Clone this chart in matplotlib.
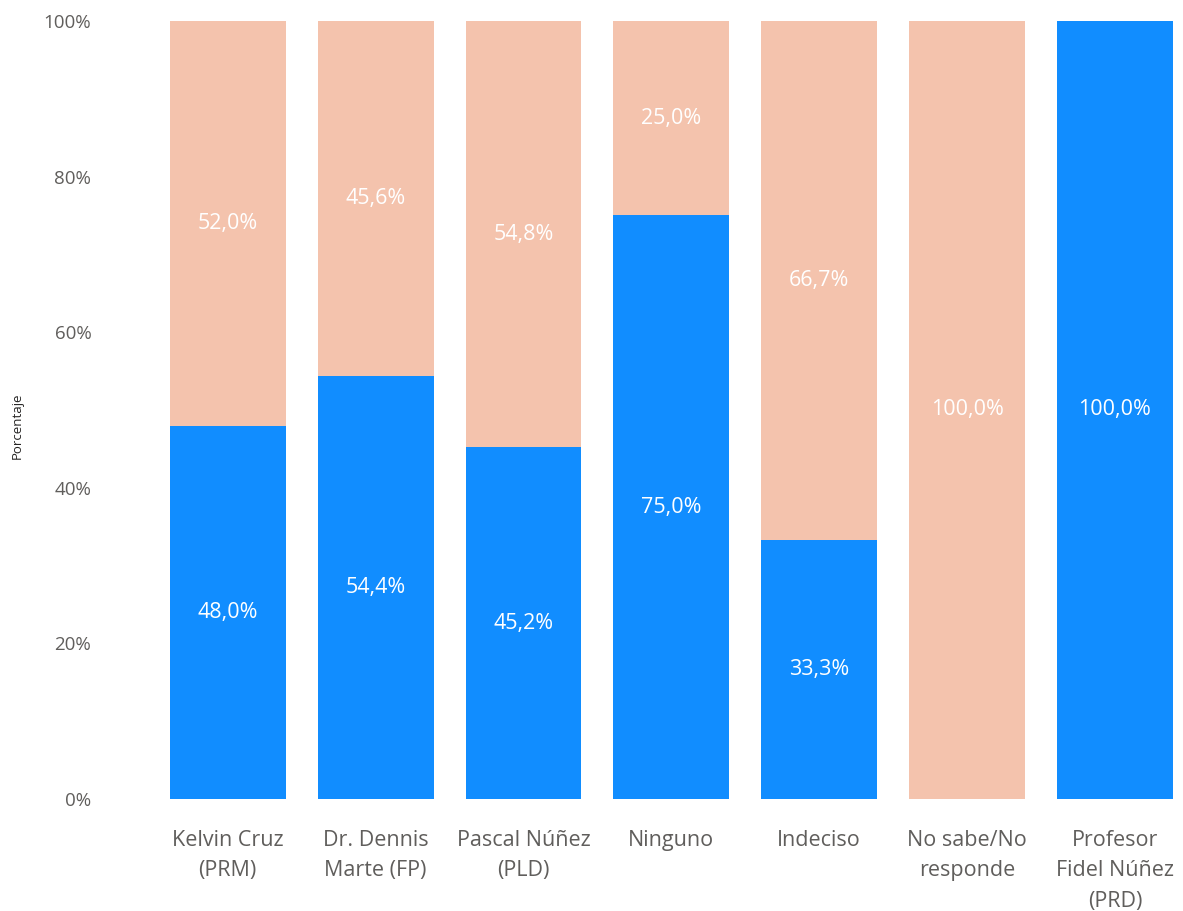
import numpy as np
import matplotlib.pyplot as plt

categorias = ['Kelvin Cruz\n(PRM)', 'Dr. Dennis\nMarte (FP)', 'Pascal Núñez\n(PLD)',
              'Ninguno', 'Indeciso', 'No sabe/No\nresponde', 'Profesor\nFidel Núñez\n(PRD)']
azul = [48.0, 54.4, 45.2, 75.0, 33.3, 0.0, 100.0]
salmon = [52.0, 45.6, 54.8, 25.0, 66.7, 100.0, 0.0]
yticks = [0, 20, 40, 60, 80, 100]

plt.rcParams['font.family'] = ['Open Sans', 'DejaVu Sans']

fig = plt.figure(figsize=(11.83, 9.11), dpi=100, facecolor='w')
ax = fig.add_axes([0.130, 0.123, 0.8615, 0.854])

x = np.arange(len(categorias))
w = 0.784
ax.bar(x, azul, w, color='#118DFF')
ax.bar(x, salmon, w, bottom=azul, color='#F4C3AD')

for i in range(len(x)):
    if azul[i] > 0:
        ax.text(x[i], azul[i] / 2, f'{azul[i]:.1f}%'.replace('.', ','),
                ha='center', va='center', color='white', fontsize=15.5)
    if salmon[i] > 0:
        ax.text(x[i], azul[i] + salmon[i] / 2, f'{salmon[i]:.1f}%'.replace('.', ','),
                ha='center', va='center', color='white', fontsize=15.5)

ax.set_xlim(-0.5, 6.392)
ax.set_ylim(0, 100)
ax.set_yticks(yticks)
ax.set_yticklabels([f'{t}%' for t in yticks], color='#605E5C', fontsize=13.5)
ax.set_xticks(x)
ax.set_xticklabels(categorias, color='#605E5C', fontsize=15.5, linespacing=1.6,
                   va='top')
ax.tick_params(axis='both', length=0)
ax.tick_params(axis='x', pad=22)
ax.tick_params(axis='y', pad=45)
for s in ax.spines.values():
    s.set_visible(False)
ax.set_ylabel('Porcentaje', fontsize=9.5, color='#252423')
ax.yaxis.set_label_coords(-0.1276, 0.48)

fig.savefig('out.png', dpi=100)
